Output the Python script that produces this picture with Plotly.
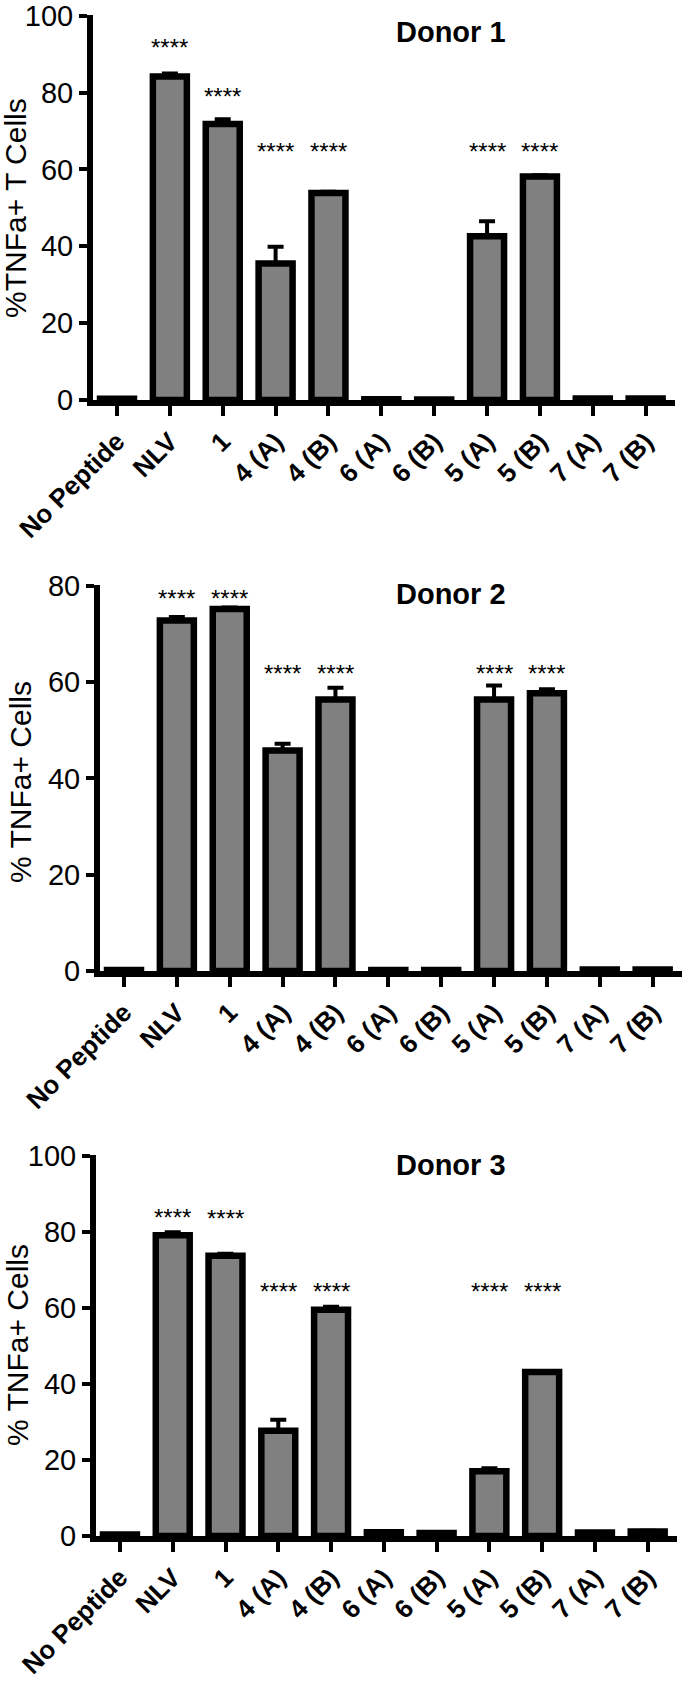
import plotly.graph_objects as go

# --------------------------------------------
# Data
# --------------------------------------------

categories = ["No Peptide", "NLV", "1", "4 (A)", "4 (B)", "6 (A)", "6 (B)",
              "5 (A)", "5 (B)", "7 (A)", "7 (B)"]

donor1_mean = [0.3, 84.2, 71.8, 35.5, 53.9, 0.2, 0.1, 42.6, 58.2, 0.4, 0.4]
donor1_sem = [0.1, 0.8, 1.3, 4.4, 0.3, 0.1, 0.1, 3.9, 0.3, 0.1, 0.1]

donor2_mean = [0.2, 72.8, 75.2, 45.8, 56.4, 0.2, 0.2, 56.4, 57.7, 0.3, 0.3]
donor2_sem = [0.1, 0.7, 0.3, 1.4, 2.4, 0.1, 0.1, 2.9, 0.8, 0.1, 0.1]

donor3_mean = [0.4, 79.1, 73.7, 27.7, 59.5, 1.0, 0.8, 17.0, 43.1, 0.9, 1.2]
donor3_sem = [0.1, 0.8, 0.5, 2.9, 0.8, 0.1, 0.1, 0.8, 0.3, 0.1, 0.2]

# significance marks: which bars, and the height of the "****" label
star_categories = ["NLV", "1", "4 (A)", "4 (B)", "5 (A)", "5 (B)"]
donor1_star_y = [93.1, 80.4, 65.9, 65.9, 65.9, 65.9]
donor2_star_y = [78.3, 78.3, 62.9, 62.9, 62.9, 62.9]
donor3_star_y = [85.2, 84.8, 65.6, 65.6, 65.6, 65.6]

# --------------------------------------------
# Layout helpers
# --------------------------------------------

FIG_W, FIG_H = 685, 1685
FONT = "Liberation Sans, Arial, sans-serif"


def px_x(p):
    return p / FIG_W


def px_y(p):
    return 1 - p / FIG_H


panels = [
    dict(title="Donor 1", mean=donor1_mean, sem=donor1_sem, stars=donor1_star_y,
         ymax=100, ytitle="%TNFa+ T Cells", xdom=(93, 675), ydom=(15, 400),
         title_y=32, ytitle_x=15, ytitle_y=208),
    dict(title="Donor 2", mean=donor2_mean, sem=donor2_sem, stars=donor2_star_y,
         ymax=80, ytitle="% TNFa+ Cells", xdom=(100, 682), ydom=(585, 971),
         title_y=594, ytitle_x=20, ytitle_y=782),
    dict(title="Donor 3", mean=donor3_mean, sem=donor3_sem, stars=donor3_star_y,
         ymax=100, ytitle="% TNFa+ Cells", xdom=(96, 677), ydom=(1155, 1536),
         title_y=1165, ytitle_x=17, ytitle_y=1345),
]

fig = go.Figure()
annotations = []
layout_axes = {}

for i, p in enumerate(panels, start=1):
    suffix = "" if i == 1 else str(i)
    xref, yref = "x" + suffix, "y" + suffix

    fig.add_trace(
        go.Bar(
            x=categories,
            y=p["mean"],
            xaxis=xref,
            yaxis=yref,
            width=0.643,
            marker=dict(color="#808080", line=dict(color="black", width=6.5)),
            error_y=dict(
                type="data",
                symmetric=False,
                array=p["sem"],
                arrayminus=[0] * len(p["sem"]),
                color="black",
                thickness=4,
                width=8,
            ),
            showlegend=False,
        )
    )

    layout_axes["xaxis" + suffix] = dict(
        domain=[px_x(p["xdom"][0]), px_x(p["xdom"][1])],
        anchor=yref,
        type="category",
        range=[-0.454, 10.555],
        automargin=False,
        showline=True,
        linewidth=6,
        linecolor="black",
        ticks="outside",
        ticklen=10,
        tickwidth=4,
        tickcolor="black",
        tickangle=-45,
        tickfont=dict(family=FONT, size=26, color="black", weight="bold"),
        ticklabeloverflow="allow",
        showgrid=False,
        zeroline=False,
        fixedrange=True,
    )
    layout_axes["yaxis" + suffix] = dict(
        domain=[px_y(p["ydom"][1]), px_y(p["ydom"][0])],
        anchor=xref,
        range=[0, p["ymax"] * 1.002],
        tickmode="array",
        tickvals=list(range(0, p["ymax"] + 1, 20)),
        automargin=False,
        showline=True,
        linewidth=6,
        linecolor="black",
        ticks="outside",
        ticklen=8,
        tickwidth=4,
        tickcolor="black",
        tickfont=dict(family=FONT, size=29, color="black"),
        ticklabeloverflow="allow",
        showgrid=False,
        zeroline=False,
        fixedrange=True,
    )

    # "****" above the significant bars (x given as category index)
    for cat, sy in zip(star_categories, p["stars"]):
        annotations.append(
            dict(x=categories.index(cat), y=sy, xref=xref, yref=yref, text="****",
                 showarrow=False, yshift=-5,
                 font=dict(family=FONT, size=24, color="black"))
        )

    # panel title
    annotations.append(
        dict(x=px_x(451), y=px_y(p["title_y"]), xref="paper", yref="paper",
             text=p["title"], showarrow=False, yanchor="middle",
             font=dict(family=FONT, size=29, color="black", weight="bold"))
    )

    # y axis title
    annotations.append(
        dict(x=px_x(p["ytitle_x"]), y=px_y(p["ytitle_y"]), xref="paper", yref="paper",
             text=p["ytitle"], textangle=-90, showarrow=False,
             xanchor="center", yanchor="middle",
             font=dict(family=FONT, size=30, color="black"))
    )

fig.update_layout(
    template="none",
    width=FIG_W,
    height=FIG_H,
    margin=dict(l=0, r=0, t=0, b=0),
    plot_bgcolor="white",
    paper_bgcolor="white",
    font=dict(family=FONT, color="black"),
    annotations=annotations,
    **layout_axes,
)

# drop the browser's default page margin so the figure sits at (0, 0)
fig.write_html(
    "out.html",
    config={"displayModeBar": False},
    post_script="document.body.style.margin = '0';",
)
